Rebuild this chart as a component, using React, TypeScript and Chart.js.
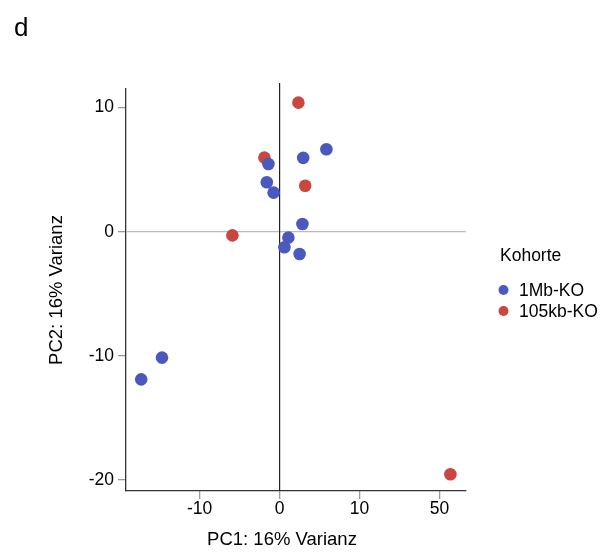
import React, { useEffect, useRef } from "react";
import { Chart, registerables } from "chart.js";

Chart.register(...registerables);

const panelLabel = "d";
const xTitle = "PC1: 16% Varianz";
const yTitle = "PC2: 16% Varianz";
const legendTitle = "Kohorte";

const seriesNames = ["1Mb-KO", "105kb-KO"];
const seriesColors = ["#4B58BE", "#C9473F"];

// PC1 / PC2 values per cohort
const pc1_1Mb = [-1.4, -1.6, -0.75, 5.85, 2.95, 2.85, 1.1, 0.6, 2.5, -14.7, -17.3];
const pc2_1Mb = [5.45, 3.98, 3.15, 6.65, 5.95, 0.62, -0.48, -1.26, -1.8, -10.15, -11.9];
const pc1_105kb = [-1.9, -5.9, 2.35, 3.2, 55.4];
const pc2_105kb = [5.97, -0.3, 10.4, 3.7, -19.55];

const xTickValues = [-10, 0, 10, 50];
const yTickValues = [-20, -10, 0, 10];

// broken x axis: beyond 10 the axis is compressed 4x
const BREAK = 10;
const COMPRESS = 4;
const fwd = (v: number) => (v > BREAK ? BREAK + (v - BREAK) / COMPRESS : v);
const inv = (t: number) => (t > BREAK ? BREAK + (t - BREAK) * COMPRESS : t);

const FONT = "'Liberation Sans', Arial, sans-serif";
const TICK_SIZE = 17.5;
const TITLE_SIZE = 18.5;

export default function App() {
  const ref = useRef<HTMLCanvasElement | null>(null);
  useEffect(() => {
    if (!ref.current) return;
    const mk = (xs: number[], ys: number[]) => xs.map((x, i) => ({ x: fwd(x), y: ys[i] }));
    const decoPlugin = {
      id: "deco",
      beforeDatasetsDraw(chart: any) {
        const c = chart.ctx;
        const { left, right, top, bottom } = chart.chartArea;
        const x0 = chart.scales.x.getPixelForValue(0);
        const y0 = chart.scales.y.getPixelForValue(0);
        c.save();
        c.lineWidth = 1.2;
        c.strokeStyle = "#bbb";
        c.beginPath();
        c.moveTo(left, y0);
        c.lineTo(right, y0);
        c.stroke();
        c.strokeStyle = "#222";
        c.beginPath();
        c.moveTo(x0, top - 6);
        c.lineTo(x0, bottom);
        c.stroke();
        c.restore();
      },
      afterDraw(chart: any) {
        const c = chart.ctx;
        c.save();
        c.fillStyle = "#000";
        c.font = `26px ${FONT}`;
        c.textBaseline = "alphabetic";
        c.fillText(panelLabel, 14, 36);
        // x axis title
        c.font = `${TITLE_SIZE}px ${FONT}`;
        c.textAlign = "center";
        c.textBaseline = "middle";
        c.fillText(xTitle, 282, 540);
        // legend
        c.textAlign = "left";
        c.font = `${TICK_SIZE}px ${FONT}`;
        c.fillText(legendTitle, 500, 256);
        chart.data.datasets.forEach((ds: any, i: number) => {
          const y = 290 + i * 21;
          c.fillStyle = ds.backgroundColor;
          c.beginPath();
          c.arc(503.5, y, 5, 0, Math.PI * 2);
          c.fill();
          c.fillStyle = "#000";
          c.fillText(ds.label, 519, y + 1);
        });
        c.restore();
      },
    };
    const chart = new Chart(ref.current, {
      type: "scatter",
      data: {
        datasets: [
          {
            label: seriesNames[0],
            data: mk(pc1_1Mb, pc2_1Mb),
            backgroundColor: seriesColors[0],
            borderColor: seriesColors[0],
            pointRadius: 6.3,
            borderWidth: 0,
          },
          {
            label: seriesNames[1],
            data: mk(pc1_105kb, pc2_105kb),
            backgroundColor: seriesColors[1],
            borderColor: seriesColors[1],
            pointRadius: 6.3,
            borderWidth: 0,
          },
        ],
      },
      plugins: [decoPlugin],
      options: {
        animation: false,
        responsive: false,
        layout: { padding: { top: 89, left: 0, right: 137, bottom: 0 } },
        plugins: {
          tooltip: { enabled: false },
          legend: { display: false },
        },
        scales: {
          x: {
            type: "linear",
            min: -19.2,
            max: 23.3,
            afterBuildTicks: (s: any) => {
              s.ticks = xTickValues.map((v) => ({ value: fwd(v) }));
            },
            afterFit: (s: any) => {
              s.height = 61;
            },
            ticks: {
              callback: (v: any) => String(Math.round(inv(Number(v)))),
              color: "#000",
              font: { family: FONT, size: TICK_SIZE },
              padding: 0,
              maxRotation: 0,
            },
            grid: {
              drawOnChartArea: false,
              tickColor: "#999",
              tickLength: 8,
              lineWidth: 1.3,
              drawTicks: true,
            },
            border: { display: true, color: "#333", width: 1.3 },
            title: { display: false },
          },
          y: {
            type: "linear",
            min: -20.9,
            max: 11.5,
            afterBuildTicks: (s: any) => {
              s.ticks = yTickValues.map((v) => ({ value: v }));
            },
            afterFit: (s: any) => {
              s.width = 126;
            },
            ticks: {
              color: "#000",
              font: { family: FONT, size: TICK_SIZE },
              padding: 4,
            },
            grid: {
              drawOnChartArea: false,
              tickColor: "#999",
              tickLength: 8,
              lineWidth: 1.3,
              drawTicks: true,
            },
            border: { display: true, color: "#333", width: 1.3 },
            title: {
              display: true,
              text: yTitle,
              color: "#000",
              font: { family: FONT, size: TITLE_SIZE },
              padding: { top: 46, bottom: 0 },
            },
          },
        },
      },
    });
    return () => chart.destroy();
  }, []);
  return (
    <div style={{ position: "fixed", left: 0, top: 0, width: 603, height: 552, background: "#fff" }}>
      <canvas ref={ref} width={603} height={552} style={{ width: 603, height: 552, display: "block" }} />
    </div>
  );
}
